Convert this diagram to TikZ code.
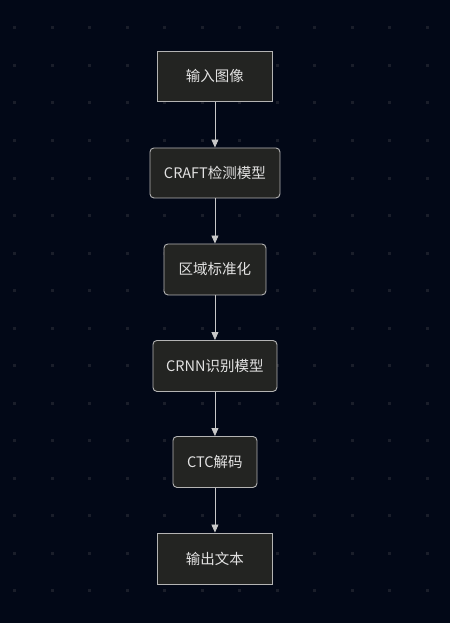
\documentclass[tikz,border=0pt]{standalone}
\usepackage{fontspec}
\setmainfont{Noto Sans CJK SC}
\usetikzlibrary{arrows.meta}
\definecolor{bg}{HTML}{020817}
\definecolor{dotc}{HTML}{1A1E2A}
\definecolor{nodefill}{HTML}{232422}
\definecolor{nodeline}{HTML}{B4B4B4}
\definecolor{txt}{HTML}{E2E2E2}
\definecolor{arr}{HTML}{C8C8C8}
\tikzset{
  box/.style={draw=nodeline, fill=nodefill, line width=0.9pt, text=txt,
    font=\fontsize{14.5}{17}\selectfont, inner sep=0pt, anchor=north west},
  rbox/.style={box, rounded corners=4pt},
  conn/.style={draw=arr, line width=0.8pt, -{Triangle[width=7pt,length=8pt]}}
}
\begin{document}
\begin{tikzpicture}[x=1pt,y=-1pt]
\fill[bg] (0,0) rectangle (450,623);
\useasboundingbox (0,0) rectangle (450,623);
\foreach \i in {0,...,11}{
  \foreach \j in {0,...,15}{
    \fill[dotc] ({14.7+37.5*\i-1.5},{28+37.5*\j-1.5}) rectangle ++(3,3);
  }
}
\node[box, minimum width=115pt, minimum height=50pt] (n1) at (157,51) {输入图像};
\node[rbox, minimum width=130pt, minimum height=50pt] (n2) at (149.5,147.5) {CRAFT检测模型};
\node[rbox, minimum width=102pt, minimum height=51pt] (n3) at (163.5,243.5) {区域标准化};
\node[rbox, minimum width=124pt, minimum height=51pt] (n4) at (152.5,340) {CRNN识别模型};
\node[rbox, minimum width=84pt, minimum height=51pt] (n5) at (172.5,436) {CTC解码};
\node[box, minimum width=115pt, minimum height=51pt] (n6) at (157,532.5) {输出文本};
\draw[conn] (n1.south) -- (n2.north);
\draw[conn] (n2.south) -- (n3.north);
\draw[conn] (n3.south) -- (n4.north);
\draw[conn] (n4.south) -- (n5.north);
\draw[conn] (n5.south) -- (n6.north);
\end{tikzpicture}
\end{document}
